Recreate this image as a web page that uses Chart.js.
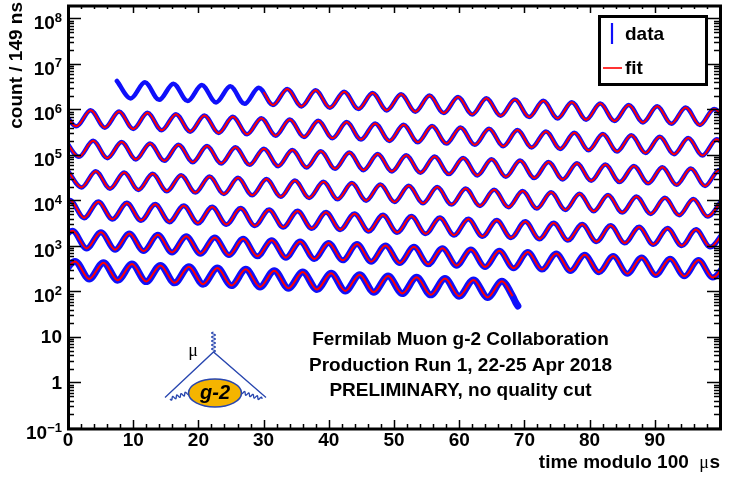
<!DOCTYPE html>
<html>
<head>
<meta charset="utf-8">
<script src="https://cdn.jsdelivr.net/npm/chart.js@4.4.1/dist/chart.umd.min.js"></script>
<style>
html,body{margin:0;padding:0;background:#fff;overflow:hidden}
canvas{display:block}
</style>
</head>
<body>
<canvas id="c" width="731" height="477"></canvas>
<script>
// Muon decay time spectrum folded every 100 µs: one row per segment.
// Each row: turning points of the wiggle (µs within the segment) and counts per 149 ns bin.
const seg0Time = [7.5, 9.62, 11.80, 13.98, 16.17, 18.35, 20.53, 22.71, 24.90, 27.08, 29.26, 31.44, 33.63, 35.81, 37.99, 40.17, 42.36, 44.54, 46.72, 48.90, 51.09, 53.27, 55.45, 57.63, 59.82, 62.00, 64.18, 66.36, 68.55, 70.73, 72.91, 75.09, 77.28, 79.46, 81.64, 83.82, 86.01, 88.19, 90.37, 92.55, 94.74, 96.92, 99.10, 101.28];
const seg0Count = [4.23e6, 1.75e6, 3.96e6, 1.63e6, 3.70e6, 1.53e6, 3.46e6, 1.43e6, 3.23e6, 1.33e6, 3.02e6, 1.25e6, 2.83e6, 1.17e6, 2.65e6, 1.09e6, 2.47e6, 1.02e6, 2.31e6, 9.54e5, 2.16e6, 8.92e5, 2.02e6, 8.34e5, 1.89e6, 7.80e5, 1.77e6, 7.29e5, 1.65e6, 6.82e5, 1.55e6, 6.38e5, 1.45e6, 5.96e5, 1.35e6, 5.57e5, 1.26e6, 5.21e5, 1.18e6, 4.87e5, 1.11e6, 4.56e5, 1.03e6, 4.26e5];

const seg1Time = [-0.90, 1.28, 3.47, 5.65, 7.83, 10.01, 12.20, 14.38, 16.56, 18.74, 20.93, 23.11, 25.29, 27.47, 29.66, 31.84, 34.02, 36.20, 38.39, 40.57, 42.75, 44.93, 47.12, 49.30, 51.48, 53.66, 55.85, 58.03, 60.21, 62.39, 64.58, 66.76, 68.94, 71.12, 73.31, 75.49, 77.67, 79.85, 82.04, 84.22, 86.40, 88.58, 90.77, 92.95, 95.13, 97.31, 99.50, 101.68];
const seg1Count = [1.03e6, 4.26e5, 9.66e5, 3.99e5, 9.04e5, 3.73e5, 8.45e5, 3.49e5, 7.90e5, 3.26e5, 7.39e5, 3.05e5, 6.91e5, 2.85e5, 6.46e5, 2.66e5, 6.04e5, 2.49e5, 5.65e5, 2.33e5, 5.28e5, 2.18e5, 4.94e5, 2.04e5, 4.62e5, 1.90e5, 4.32e5, 1.78e5, 4.04e5, 1.67e5, 3.78e5, 1.56e5, 3.53e5, 1.46e5, 3.30e5, 1.36e5, 3.09e5, 1.27e5, 2.89e5, 1.19e5, 2.70e5, 1.11e5, 2.52e5, 1.04e5, 2.36e5, 9.73e4, 2.21e5, 9.10e4];

const seg2Time = [-0.51, 1.68, 3.86, 6.04, 8.23, 10.41, 12.59, 14.77, 16.96, 19.14, 21.32, 23.50, 25.69, 27.87, 30.05, 32.23, 34.42, 36.60, 38.78, 40.96, 43.15, 45.33, 47.51, 49.69, 51.88, 54.06, 56.24, 58.42, 60.61, 62.79, 64.97, 67.15, 69.34, 71.52, 73.70, 75.88, 78.07, 80.25, 82.43, 84.61, 86.80, 88.98, 91.16, 93.34, 95.53, 97.71, 99.89, 102.07];
const seg2Count = [2.21e5, 9.10e4, 2.06e5, 8.51e4, 1.93e5, 7.96e4, 1.80e5, 7.44e4, 1.69e5, 6.96e4, 1.58e5, 6.51e4, 1.48e5, 6.08e4, 1.38e5, 5.69e4, 1.29e5, 5.32e4, 1.21e5, 4.97e4, 1.13e5, 4.65e4, 1.05e5, 4.35e4, 9.86e4, 4.07e4, 9.22e4, 3.80e4, 8.62e4, 3.56e4, 8.06e4, 3.33e4, 7.54e4, 3.11e4, 7.05e4, 2.91e4, 6.59e4, 2.72e4, 6.16e4, 2.54e4, 5.76e4, 2.38e4, 5.39e4, 2.22e4, 5.04e4, 2.08e4, 4.71e4, 1.94e4];

const seg3Time = [-0.11, 2.07, 4.26, 6.44, 8.62, 10.80, 12.99, 15.17, 17.35, 19.53, 21.72, 23.90, 26.08, 28.26, 30.45, 32.63, 34.81, 36.99, 39.18, 41.36, 43.54, 45.72, 47.91, 50.09, 52.27, 54.45, 56.64, 58.82, 61.00, 63.18, 65.37, 67.55, 69.73, 71.91, 74.10, 76.28, 78.46, 80.64, 82.83, 85.01, 87.19, 89.37, 91.56, 93.74, 95.92, 98.10, 100.29];
const seg3Count = [4.71e4, 1.94e4, 4.41e4, 1.82e4, 4.12e4, 1.70e4, 3.85e4, 1.59e4, 3.60e4, 1.49e4, 3.37e4, 1.39e4, 3.15e4, 1.30e4, 2.95e4, 1.21e4, 2.75e4, 1.14e4, 2.58e4, 1.06e4, 2.41e4, 9.93e3, 2.25e4, 9.29e3, 2.11e4, 8.68e3, 1.97e4, 8.12e3, 1.84e4, 7.59e3, 1.72e4, 7.10e3, 1.61e4, 6.64e3, 1.51e4, 6.21e3, 1.41e4, 5.81e3, 1.32e4, 5.43e3, 1.23e4, 5.08e3, 1.15e4, 4.75e3, 1.08e4, 4.44e3, 1.01e4];

const seg4Time = [-1.90, 0.29, 2.47, 4.65, 6.83, 9.02, 11.20, 13.38, 15.56, 17.75, 19.93, 22.11, 24.29, 26.48, 28.66, 30.84, 33.02, 35.21, 37.39, 39.57, 41.75, 43.94, 46.12, 48.30, 50.48, 52.67, 54.85, 57.03, 59.21, 61.40, 63.58, 65.76, 67.94, 70.13, 72.31, 74.49, 76.67, 78.86, 81.04, 83.22, 85.40, 87.59, 89.77, 91.95, 94.13, 96.32, 98.50, 100.68];
const seg4Count = [4.44e3, 1.01e4, 4.15e3, 9.41e3, 3.88e3, 8.80e3, 3.63e3, 8.22e3, 3.39e3, 7.69e3, 3.17e3, 7.19e3, 2.97e3, 6.73e3, 2.77e3, 6.29e3, 2.59e3, 5.88e3, 2.43e3, 5.50e3, 2.27e3, 5.14e3, 2.12e3, 4.81e3, 1.98e3, 4.49e3, 1.85e3, 4.20e3, 1.73e3, 3.93e3, 1.62e3, 3.68e3, 1.52e3, 3.44e3, 1.42e3, 3.21e3, 1.33e3, 3.00e3, 1.24e3, 2.81e3, 1.16e3, 2.63e3, 1.08e3, 2.46e3, 1.01e3, 2.30e3, 9.48e2, 2.15e3];

const seg5Time = [-1.50, 0.68, 2.86, 5.05, 7.23, 9.41, 11.59, 13.78, 15.96, 18.14, 20.32, 22.51, 24.69, 26.87, 29.05, 31.24, 33.42, 35.60, 37.78, 39.97, 42.15, 44.33, 46.51, 48.70, 50.88, 53.06, 55.24, 57.43, 59.61, 61.79, 63.97, 66.16, 68.34, 70.52, 72.70, 74.89, 77.07, 79.25, 81.43, 83.62, 85.80, 87.98, 90.16, 92.35, 94.53, 96.71, 98.89, 101.08];
const seg5Count = [9.48e2, 2.15e3, 8.86e2, 2.01e3, 8.29e2, 1.88e3, 7.75e2, 1.76e3, 7.24e2, 1.64e3, 6.77e2, 1.54e3, 6.33e2, 1.44e3, 5.92e2, 1.34e3, 5.54e2, 1.26e3, 5.18e2, 1.17e3, 4.84e2, 1.10e3, 4.53e2, 1.03e3, 4.23e2, 9.60e2, 3.96e2, 8.97e2, 3.70e2, 8.39e2, 3.46e2, 7.85e2, 3.24e2, 7.34e2, 3.03e2, 6.86e2, 2.83e2, 6.42e2, 2.65e2, 6.00e2, 2.47e2, 5.61e2, 2.31e2, 5.25e2, 2.16e2, 4.91e2, 2.02e2, 4.59e2];

const seg6Time = [-1.11, 1.08, 3.26, 5.44, 7.62, 9.81, 11.99, 14.17, 16.35, 18.54, 20.72, 22.90, 25.08, 27.27, 29.45, 31.63, 33.81, 36.00, 38.18, 40.36, 42.54, 44.73, 46.91, 49.09, 51.27, 53.46, 55.64, 57.82, 60.00, 62.19, 64.37, 66.55, 68.2, 68.6, 69.0];
const seg6Count = [2.02e2, 4.59e2, 1.89e2, 4.29e2, 1.77e2, 4.01e2, 1.65e2, 3.75e2, 1.55e2, 3.51e2, 1.45e2, 3.28e2, 1.35e2, 3.07e2, 1.26e2, 2.87e2, 1.18e2, 2.68e2, 1.11e2, 2.51e2, 1.03e2, 2.34e2, 96.7, 2.19e2, 90.4, 2.05e2, 84.5, 1.92e2, 79.1, 1.79e2, 73.9, 1.68e2, 79, 60, 48];

// Fit range per row (µs within the segment); the first fit point of row 0
const fitFrom = [30, -5, -5, -5, -5, -5, -5];
const fitTo = [105, 105, 105, 105, 105, 105, 68.2];
const fitStartTime = 30.0;
const fitStartCount = 2.39e6;

// Axis ticks
const xTickValues = [0, 10, 20, 30, 40, 50, 60, 70, 80, 90];
const xTickLabels = ['0', '10', '20', '30', '40', '50', '60', '70', '80', '90'];
const yDecadeExp = [-1, 0, 1, 2, 3, 4, 5, 6, 7, 8];
const yTickBase = ['10', '1', '10', '10', '10', '10', '10', '10', '10', '10'];
const yTickSup = ['\u22121', '', '', '2', '3', '4', '5', '6', '7', '8'];

const segTimes = [seg0Time, seg1Time, seg2Time, seg3Time, seg4Time, seg5Time, seg6Time];
const segCounts = [seg0Count, seg1Count, seg2Count, seg3Count, seg4Count, seg5Count, seg6Count];
const dataWidths = [4.5, 4.5, 4.5, 4.5, 5, 6, 7];

const BLUE = 'rgb(15,15,250)';
const RED = 'rgb(255,0,0)';
const FONT = '"Liberation Sans", Arial, Helvetica, sans-serif';

const datasets = [];
segTimes.forEach((times, r) => {
  const counts = segCounts[r];
  const pts = times.map((t, i) => ({x: t, y: counts[i]}));
  const fitPts = pts.filter(p => p.x >= fitFrom[r] && p.x <= fitTo[r]);
  if (r === 0) fitPts.unshift({x: fitStartTime, y: fitStartCount});
  datasets.push({
    label: 'fit', data: fitPts, order: 0,
    borderColor: RED, borderWidth: 2, pointRadius: 0,
    cubicInterpolationMode: 'monotone', fill: false, clip: 0
  });
  datasets.push({
    label: 'data', data: pts, order: 1,
    borderColor: BLUE, borderWidth: dataWidths[r], pointRadius: 0,
    borderJoinStyle: 'round', borderCapStyle: 'round',
    cubicInterpolationMode: 'monotone', fill: false, clip: 0
  });
});

// Frame, ROOT-style inward ticks, labels, legend and annotations
const decorations = {
  id: 'decorations',
  afterDatasetsDraw(chart) {
    const ctx = chart.ctx;
    const xs = chart.scales.x, ys = chart.scales.y;
    const L = chart.chartArea.left, R = chart.chartArea.right;
    const T = chart.chartArea.top, B = chart.chartArea.bottom;
    ctx.save();
    ctx.strokeStyle = '#000';
    ctx.fillStyle = '#000';

    // x ticks (bottom and top)
    ctx.lineWidth = 1.5;
    ctx.beginPath();
    for (let v = 0; v < 100; v += 2) {
      const px = Math.round(xs.getPixelForValue(v)) + 0.5;
      const len = (v % 10 === 0) ? 8 : 4;
      ctx.moveTo(px, B); ctx.lineTo(px, B - len);
      ctx.moveTo(px, T); ctx.lineTo(px, T + len);
    }
    ctx.stroke();

    // y ticks (left and right)
    ctx.beginPath();
    yDecadeExp.forEach(e => {
      for (let m = 1; m <= 9; m++) {
        const v = m * Math.pow(10, e);
        if (v > ys.max) continue;
        const py = Math.round(ys.getPixelForValue(v)) + 0.5;
        const len = m === 1 ? 13 : 6;
        ctx.moveTo(L, py); ctx.lineTo(L + len, py);
        ctx.moveTo(R, py); ctx.lineTo(R - len, py);
      }
    });
    ctx.stroke();

    // frame
    ctx.lineWidth = 3;
    ctx.strokeRect(L + 0.5, T + 1, R - L, B - T);

    // x tick labels
    ctx.font = 'bold 19px ' + FONT;
    ctx.textAlign = 'center';
    ctx.textBaseline = 'middle';
    xTickValues.forEach((v, i) => {
      ctx.fillText(xTickLabels[i], xs.getPixelForValue(v), B + 13);
    });

    // y tick labels with exponents
    const rightEdge = 62;
    yDecadeExp.forEach((e, i) => {
      const py = ys.getPixelForValue(Math.pow(10, e));
      const sup = yTickSup[i];
      if (sup) {
        ctx.font = 'bold 13px ' + FONT;
        ctx.textAlign = 'right';
        ctx.textBaseline = 'alphabetic';
        const sw = ctx.measureText(sup).width;
        ctx.fillText(sup, rightEdge, py + 3.5);
        ctx.font = 'bold 19px ' + FONT;
        ctx.fillText(yTickBase[i], rightEdge - sw, py + 11);
      } else {
        ctx.font = 'bold 19px ' + FONT;
        ctx.textAlign = 'right';
        ctx.textBaseline = 'middle';
        ctx.fillText(yTickBase[i], rightEdge, py + 1);
      }
    });

    // y axis title
    ctx.save();
    ctx.translate(17, 2);
    ctx.rotate(-Math.PI / 2);
    ctx.font = 'bold 19px ' + FONT;
    ctx.textAlign = 'right';
    ctx.textBaseline = 'middle';
    ctx.fillText('count / 149 ns', 0, 0);
    ctx.restore();

    // x axis title
    ctx.textBaseline = 'alphabetic';
    ctx.textAlign = 'right';
    ctx.font = 'bold 19px ' + FONT;
    const sW = ctx.measureText('s').width;
    ctx.fillText('s', 720, 468);
    ctx.font = '18px "Liberation Serif", "DejaVu Serif", serif';
    const muW = ctx.measureText('\u03bc').width;
    ctx.fillText('\u03bc', 720 - sW - 0.5, 468);
    ctx.font = 'bold 19px ' + FONT;
    ctx.fillText('time modulo 100', 720 - sW - muW - 11, 468);

    // legend
    ctx.fillStyle = '#fff';
    ctx.fillRect(599, 16, 108, 69);
    ctx.lineWidth = 3;
    ctx.strokeStyle = '#000';
    ctx.strokeRect(599.5, 16.5, 107, 68);
    ctx.strokeStyle = BLUE;
    ctx.lineWidth = 2.2;
    ctx.beginPath(); ctx.moveTo(612, 23); ctx.lineTo(612, 44); ctx.stroke();
    ctx.strokeStyle = RED;
    ctx.lineWidth = 1.6;
    ctx.beginPath(); ctx.moveTo(603, 68); ctx.lineTo(622, 68); ctx.stroke();
    ctx.fillStyle = '#000';
    ctx.font = 'bold 19px ' + FONT;
    ctx.textAlign = 'left';
    ctx.textBaseline = 'middle';
    ctx.fillText('data', 625, 35);
    ctx.fillText('fit', 625, 69);

    // collaboration text
    ctx.textAlign = 'center';
    ctx.fillText('Fermilab Muon g-2 Collaboration', 460.5, 340);
    ctx.fillText('Production Run 1, 22-25 Apr 2018', 460.5, 365.5);
    ctx.fillText('PRELIMINARY, no quality cut', 460.5, 391);

    // g-2 diagram
    const lineBlue = 'rgb(40,70,175)';
    const wavy = (x1, y1, x2, y2, n, amp) => {
      const dx = x2 - x1, dy = y2 - y1, len = Math.hypot(dx, dy);
      const nx = -dy / len, ny = dx / len;
      ctx.beginPath();
      for (let i = 0; i <= 80; i++) {
        const s = i / 80, off = amp * Math.sin(s * n * 2 * Math.PI);
        const px = x1 + dx * s + nx * off, py = y1 + dy * s + ny * off;
        if (i) ctx.lineTo(px, py); else ctx.moveTo(px, py);
      }
      ctx.stroke();
    };
    ctx.strokeStyle = lineBlue;
    ctx.lineWidth = 1.3;
    ctx.beginPath();
    ctx.moveTo(165, 397.5); ctx.lineTo(213.5, 352); ctx.lineTo(266, 397.5);
    ctx.stroke();
    wavy(213.5, 332, 213.5, 352, 5, 1.8);
    wavy(170, 399, 191, 392, 5, 1.6);
    wavy(241, 392, 262, 399, 5, 1.6);
    ctx.beginPath();
    ctx.ellipse(215, 393, 26.5, 14, 0, 0, 2 * Math.PI);
    ctx.fillStyle = 'rgb(245,180,0)';
    ctx.fill();
    ctx.lineWidth = 1.6;
    ctx.stroke();
    ctx.fillStyle = '#000';
    ctx.font = 'italic bold 20px ' + FONT;
    ctx.textAlign = 'center';
    ctx.textBaseline = 'middle';
    ctx.fillText('g-2', 215, 393);
    ctx.font = '18px "Liberation Serif", "DejaVu Serif", serif';
    ctx.fillText('\u03bc', 193, 351);

    ctx.restore();
  }
};

new Chart(document.getElementById('c'), {
  type: 'line',
  data: {datasets},
  options: {
    responsive: false,
    devicePixelRatio: 1,
    animation: false,
    events: [],
    layout: {padding: {left: 68, right: 11, top: 5, bottom: 49}},
    scales: {
      x: {type: 'linear', min: 0, max: 100, display: false},
      y: {type: 'logarithmic', min: 0.1, max: 1.98e8, display: false}
    },
    plugins: {legend: {display: false}, tooltip: {enabled: false}}
  },
  plugins: [decorations]
});
</script>
</body>
</html>
